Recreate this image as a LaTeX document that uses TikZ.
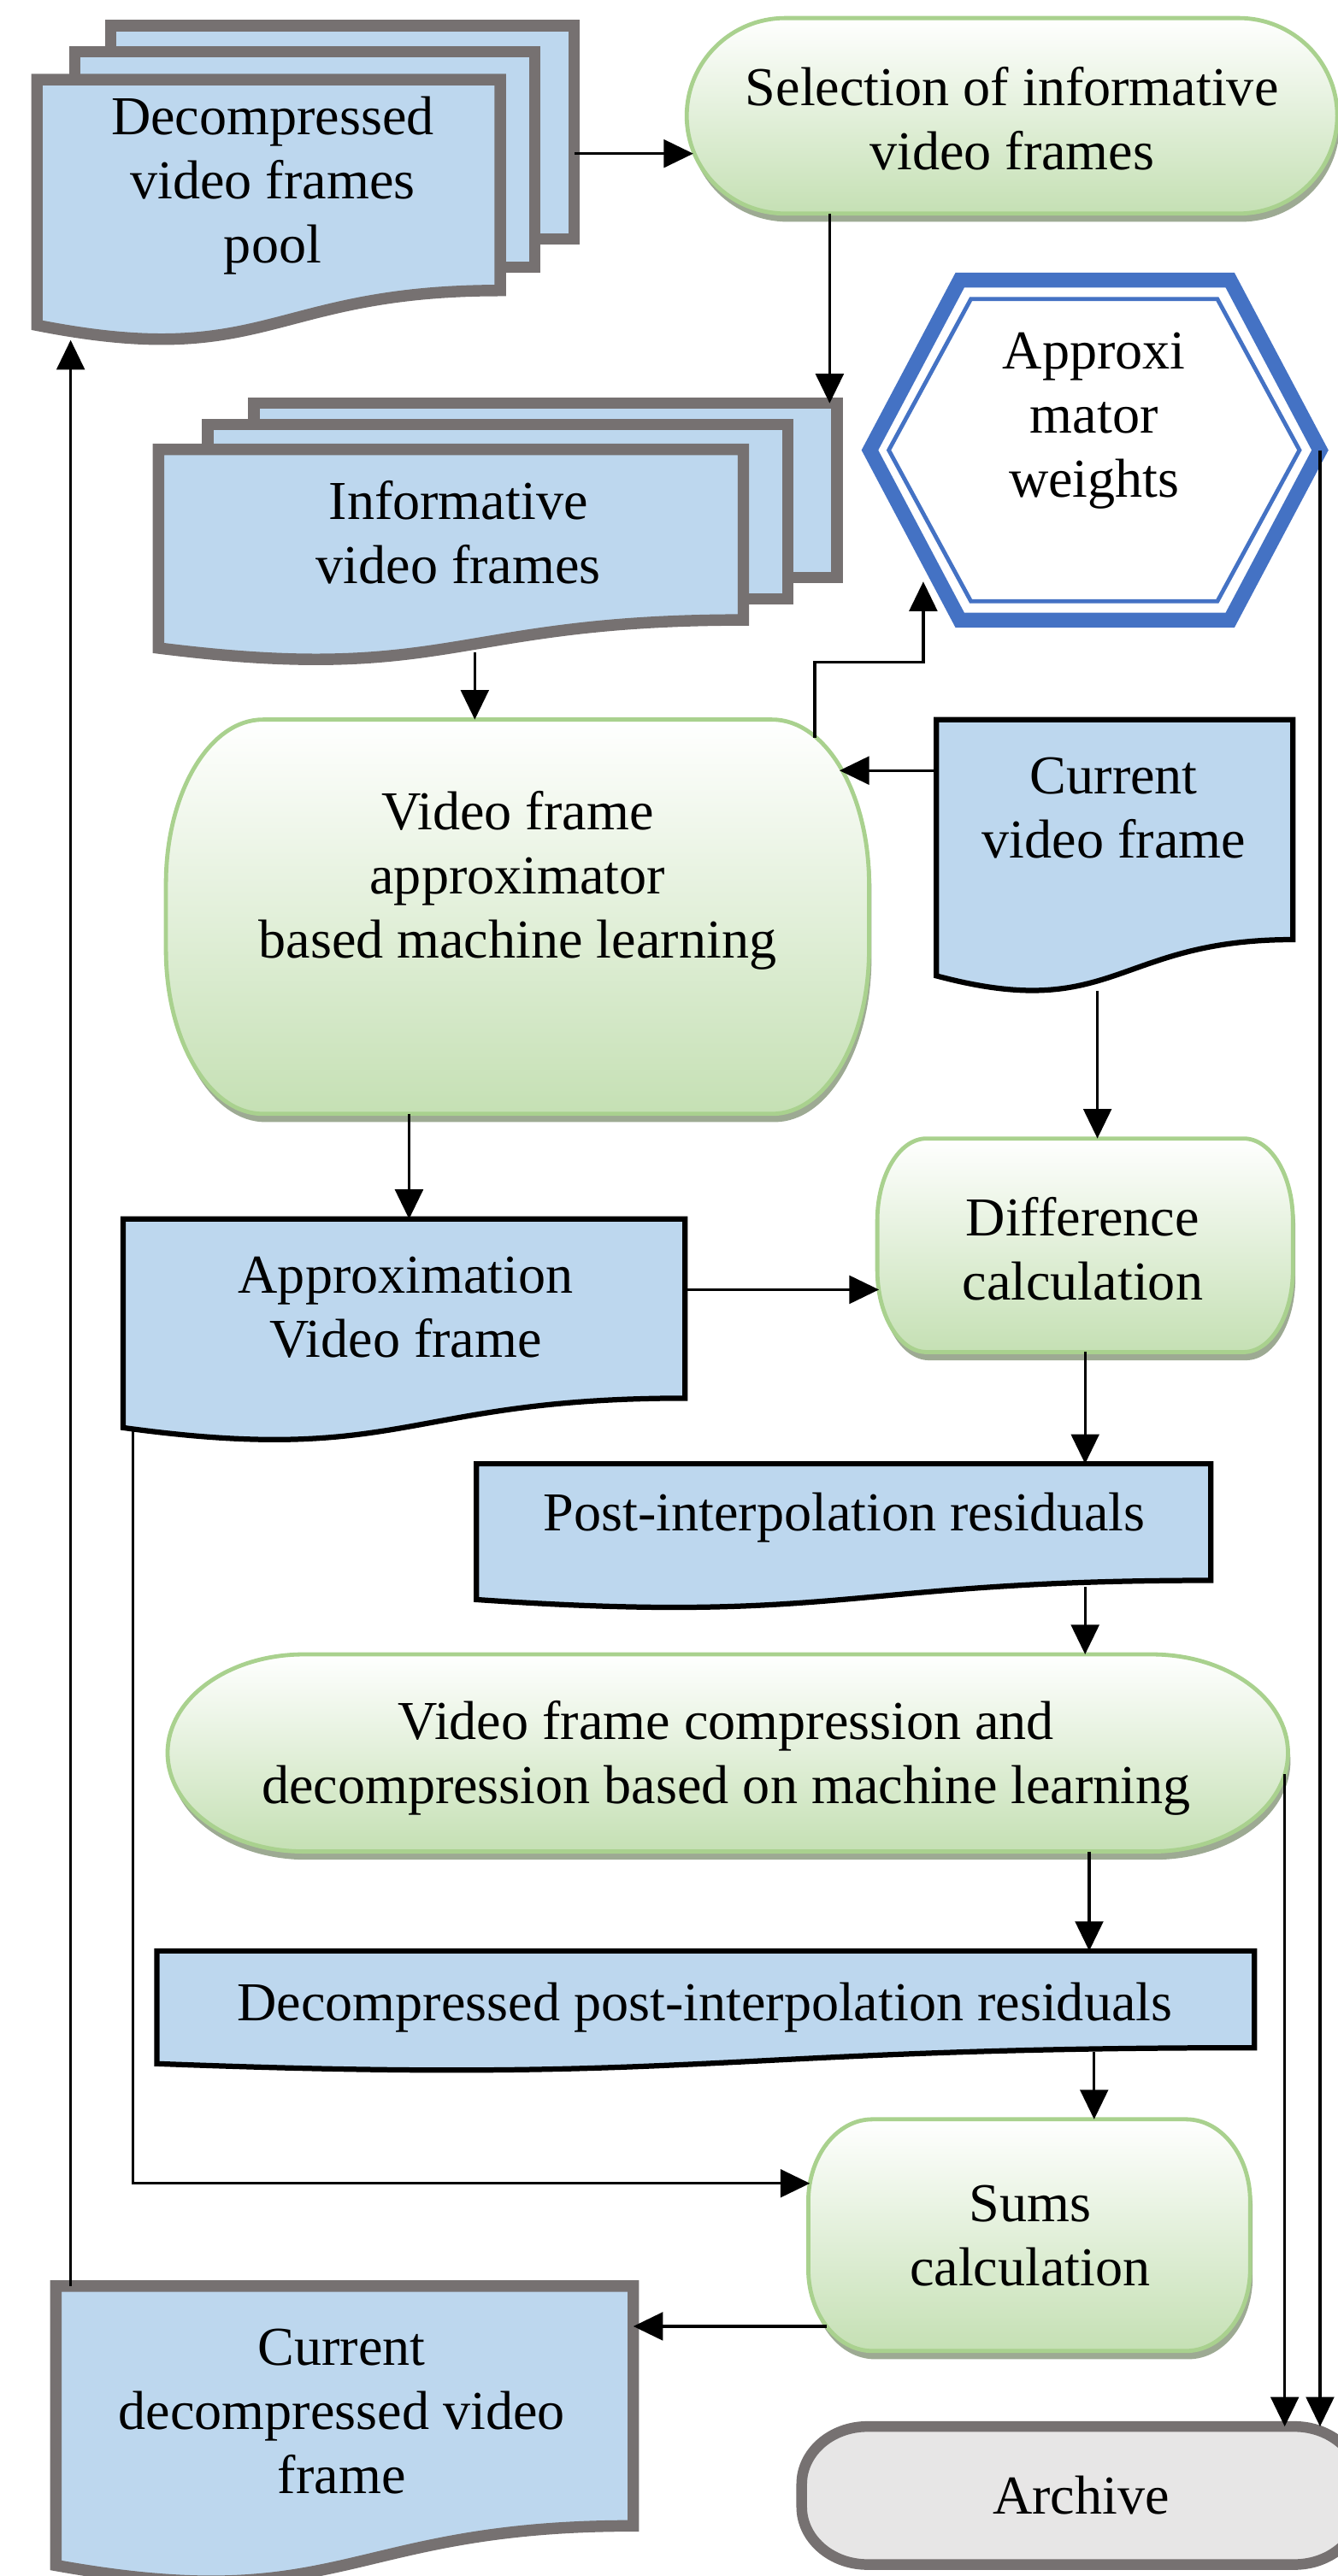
\documentclass[tikz,border=0pt]{standalone}
\usepackage{fontspec}
\setmainfont{Liberation Serif}
\usetikzlibrary{calc,fit,shadows,arrows.meta}

\definecolor{docblue}{HTML}{BDD7EE}
\definecolor{sheetgray}{HTML}{767171}
\definecolor{grnline}{HTML}{A9D18E}
\definecolor{grnlo}{HTML}{C5E0B4}
\definecolor{grnshadow}{HTML}{9DAA93}
\definecolor{hexblue}{HTML}{4472C4}
\definecolor{archgray}{HTML}{E7E6E6}

\tikzset{
  boxfit/.style={inner sep=0pt, outer sep=0pt},
  txt/.style={font=\fontsize{19}{22.2}\selectfont, align=center},
  sheet/.style={fill=docblue, draw=sheetgray, line width=0.14cm},
  page/.style={fill=docblue, draw=black, line width=0.065cm},
  proc/.style={draw=grnline, line width=0.05cm, top color=white, bottom color=grnlo,
    drop shadow={shadow xshift=0.03cm, shadow yshift=-0.1cm, fill=grnshadow, opacity=1}},
  store/.style={draw=sheetgray, fill=archgray, line width=0.13cm},
  arr/.style={-{Triangle[width=0.34cm,length=0.36cm]}, line width=0.035cm},
}

% document with wavy bottom, drawn on a named box
\newcommand{\docshape}[2]{%
  \draw[#2] (#1.north west) -- (#1.north east) -- ($(#1.north east)!0.802!(#1.south east)$)
    .. controls ($(#1.north)!0.802!(#1.south)$) and ($(#1.north)!1.1075!(#1.south)$)
    .. ($(#1.north west)!0.934!(#1.south west)$) -- cycle;}
% box with round corners, #2 = radius along x, #3 = radius along y
\newcommand{\rndbox}[4]{%
  \draw[#4] ($(#1.north west)+(#2,0)$) -- ($(#1.north east)+(-#2,0)$)
    .. controls ($(#1.north east)+(-0.448*#2,0)$) and ($(#1.north east)+(0,0.448*#3)$) .. ($(#1.north east)+(0,#3)$)
    -- ($(#1.south east)+(0,-#3)$)
    .. controls ($(#1.south east)+(0,-0.448*#3)$) and ($(#1.south east)+(-0.448*#2,0)$) .. ($(#1.south east)+(-#2,0)$)
    -- ($(#1.south west)+(#2,0)$)
    .. controls ($(#1.south west)+(0.448*#2,0)$) and ($(#1.south west)+(0,-0.448*#3)$) .. ($(#1.south west)+(0,-#3)$)
    -- ($(#1.north west)+(0,#3)$)
    .. controls ($(#1.north west)+(0,0.448*#3)$) and ($(#1.north west)+(0.448*#2,0)$) .. ($(#1.north west)+(#2,0)$)
    -- cycle;}
\newcommand{\hexshape}[2]{%
  \draw[#2] (#1.west) -- ($(#1.north west)!0.2!(#1.north east)$) -- ($(#1.north west)!0.8!(#1.north east)$)
    -- (#1.east) -- ($(#1.south west)!0.8!(#1.south east)$) -- ($(#1.south west)!0.2!(#1.south east)$) -- cycle;}

\begin{document}
\begin{tikzpicture}[x=0.02cm, y=-0.02cm]
\useasboundingbox (0,0) rectangle (814,1568);

% boxes
\node[boxfit, fit={(67.5,15.5) (349.5,145.5)}] (pool3) {};
\node[boxfit, fit={(45.5,31.5) (325.5,162.5)}] (pool2) {};
\node[boxfit, fit={(22.5,48.5) (304.5,208.5)}] (pool1) {};
\node[boxfit, fit={(418,11) (814,130)}] (sel) {};
\node[boxfit, fit={(154.5,245.5) (509.5,351.5)}] (inf3) {};
\node[boxfit, fit={(126.5,258.5) (479.5,364.5)}] (inf2) {};
\node[boxfit, fit={(96.5,273.5) (452.5,403)}] (inf1) {};
\node[boxfit, fit={(529.5,170.5) (803.5,377.5)}] (hex) {};
\node[boxfit, fit={(541,182) (791,366)}] (hexin) {};
\node[boxfit, fit={(101,438) (529,678)}] (appr) {};
\node[boxfit, fit={(570,438) (787,605)}] (cur) {};
\node[boxfit, fit={(75,742) (417,878)}] (apx) {};
\node[boxfit, fit={(534,693) (787,823)}] (diff) {};
\node[boxfit, fit={(290,891) (737,979.5)}] (post) {};
\node[boxfit, fit={(102,1007) (784,1127)}] (comp) {};
\node[boxfit, fit={(95.5,1187.5) (763.5,1261)}] (dres) {};
\node[boxfit, fit={(492,1290) (761,1431)}] (sums) {};
\node[boxfit, fit={(34,1391.5) (385.5,1573.5)}] (curdec) {};
\node[boxfit, fit={(488,1477) (828,1561)}] (arch) {};

% shapes
\draw[sheet] (pool3.north west) rectangle (pool3.south east);
\draw[sheet] (pool2.north west) rectangle (pool2.south east);
\docshape{pool1}{sheet}
\rndbox{sel}{60}{59.5}{proc}
\draw[sheet] (inf3.north west) rectangle (inf3.south east);
\draw[sheet] (inf2.north west) rectangle (inf2.south east);
\docshape{inf1}{sheet}
\hexshape{hex}{draw=hexblue, line width=0.18cm, fill=white}
\hexshape{hexin}{draw=hexblue, line width=0.05cm}
\rndbox{appr}{59}{100}{proc}
\docshape{cur}{page}
\docshape{apx}{page}
\rndbox{diff}{30}{50}{proc}
\docshape{post}{page}
\rndbox{comp}{83}{60}{proc}
\docshape{dres}{page}
\rndbox{sums}{39}{50}{proc}
\docshape{curdec}{sheet}
\rndbox{arch}{40}{35}{store}

% texts
\node[txt] (poolt) at (166,113) {Decompressed\\video frames\\pool};
\node[txt] (selt) at (616,72) {Selection of informative\\video frames};
\node[txt] (inft) at (279,324) {Informative\\video frames};
\node[txt] (hext) at (666,256) {Approxi\\mator\\weights};
\node[txt] (apprt) at (315,536) {Video frame\\approximator\\based machine learning};
\node[txt] (curt) at (678,492) {Current\\video frame};
\node[txt] (apxt) at (247,796) {Approximation\\Video frame};
\node[txt] (difft) at (659,760) {Difference\\calculation};
\node[txt] (postt) at (514,924) {Post-interpolation residuals};
\node[txt] (compt) at (442,1070) {Video frame compression and\\decompression based on machine learning};
\node[txt] (drest) at (429,1222) {Decompressed post-interpolation residuals};
\node[txt] (sumst) at (627,1361) {Sums\\calculation};
\node[txt] (curdect) at (208,1468) {Current\\decompressed video\\frame};
\node[txt] (archt) at (658,1519) {Archive};

% connectors
\coordinate (apprne) at (496,449);
\coordinate (hextip) at (562,354);
\coordinate (appre) at (511,469);
\draw[arr] ($(pool3.east)+(0,13)$) -- ($(pool3.east -| sel.west)+(4,13)$);
\draw[arr] ($(sel.south -| inf3.north east)+(-4.5,0)$) -- ($(inf3.north east)+(-4.5,0)$);
\draw[arr] ($(inf1.south)+(14.5,-6)$) -- ($(appr.north -| inf1.south)+(14.5,0)$);
\draw[arr] (apprne) -- ++(0,-46) -| (hextip);
\draw[arr] (hex.east) -- (hex.east |- arch.north);
\draw[arr] (cur.west |- appre) -- (appre);
\draw[arr] ($(cur.south)+(-10.5,-2)$) -- ($(cur.south |- diff.north)+(-10.5,0)$);
\draw[arr] ($(appr.south)+(-66,0)$) -- ($(appr.south |- apx.north)+(-66,0)$);
\draw[arr] ($(apx.east)+(0,-25)$) -- ($(apx.east -| diff.west)+(1,-25)$);
\draw[arr] (diff.south) -- (diff.south |- post.north);
\draw[arr] ($(post.south -| diff.south)+(0,-13.5)$) -- (comp.north -| diff.south);
\draw[arr] ($(comp.south -| diff.south)+(2.5,0)$) -- ($(dres.north -| diff.south)+(2.5,0)$);
\draw[arr] ($(dres.south -| diff.south)+(5.5,-12)$) -- ($(sums.north -| diff.south)+(5.5,0)$);
\draw[arr] ($(apx.south west)+(6,-8)$) |- ($(sums.west)+(1,-31.5)$);
\draw[arr] ($(sums.west)+(11,55.5)$) -- ($(sums.west -| curdec.east)+(0,55.5)$);
\draw[arr] ($(curdec.north west)+(9,0)$) -- ($(curdec.north west |- pool1.south)+(9,-1.5)$);
\draw[arr] ($(comp.east)+(-2,13)$) -- ($(comp.east |- arch.north)+(-2,0)$);
\end{tikzpicture}
\end{document}
